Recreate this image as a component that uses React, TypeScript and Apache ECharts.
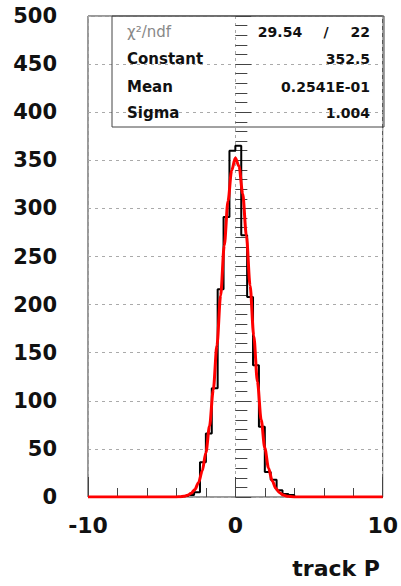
import React, { useEffect, useRef } from "react";
import * as echarts from "echarts";

// Histogram: 50 bins of width 0.4 from -10 to 10
const binLow = -10;
const binWidth = 0.4;
const binCounts = [
  0, 0, 0, 0, 0, 0, 0, 0, 0, 0,
  0, 0, 0, 0, 0, 0, 1, 2, 5, 36,
  66, 113, 216, 291, 360, 365, 272, 208, 137, 73,
  26, 18, 7, 3, 2, 0, 0, 0, 0, 0,
  0, 0, 0, 0, 0, 0, 0, 0, 0, 0,
];

// Fitted gaussian curve
const fitX = [-10, -4, -3.75, -3.5, -3.25, -3, -2.75, -2.5, -2.25, -2, -1.75, -1.5, -1.25, -1, -0.75, -0.5, -0.25, 0, 0.25, 0.5, 0.75, 1, 1.25, 1.5, 1.75, 2, 2.25, 2.5, 2.75, 3, 3.25, 3.5, 3.75, 4, 10];
const fitY = [0, 0.1, 0.3, 0.7, 1.7, 3.8, 7.7, 14.9, 27, 46.1, 73.9, 111.2, 157.4, 209.4, 261.7, 307.5, 339.5, 352.4, 343.8, 315.2, 271.6, 219.9, 167.5, 119.8, 80.6, 50.9, 30.2, 16.9, 8.9, 4.4, 2.0, 0.9, 0.4, 0.1, 0];

const xTicks = [-10, 0, 10];
const yTicks = [0, 50, 100, 150, 200, 250, 300, 350, 400, 450, 500];

const statLabels = ["χ²/ndf", "Constant", "Mean", "Sigma"];
const chi2 = "29.54";
const ndf = "22";
const statValues = ["", "352.5", "0.2541E-01", "1.004"];

const FONT = "'DejaVu Sans', sans-serif";

export default function App() {
  const ref = useRef<HTMLDivElement>(null);
  useEffect(() => {
    if (!ref.current) return;
    const chart = echarts.init(ref.current, undefined, { renderer: "svg" });

    const histData: number[][] = [];
    binCounts.forEach((c, i) => {
      const lo = binLow + i * binWidth;
      const hi = lo + binWidth;
      histData.push([lo, c]);
      histData.push([hi, c]);
    });
    const fitData = fitX.map((x, i) => [x, fitY[i]]);

    const rowY = [32, 59, 87, 113];
    const statGraphics: any[] = [
      {
        type: "rect",
        shape: { x: 112, y: 16, width: 272, height: 111 },
        style: { fill: "none", stroke: "#444", lineWidth: 1 },
        z: 100,
      },
    ];
    statLabels.forEach((t, i) => {
      statGraphics.push({
        type: "text",
        x: 127,
        y: rowY[i],
        z: 101,
        style: {
          text: t,
          fontFamily: FONT,
          fontSize: 15,
          fontWeight: i === 0 ? "normal" : "bold",
          fill: i === 0 ? "#888" : "#111",
          verticalAlign: "middle",
          align: "left",
        },
      });
      if (statValues[i]) {
        statGraphics.push({
          type: "text",
          x: 370,
          y: rowY[i],
          z: 101,
          style: {
            text: statValues[i],
            fontFamily: FONT,
            fontSize: 14,
            fontWeight: "bold",
            fill: "#111",
            verticalAlign: "middle",
            align: "right",
          },
        });
      }
    });
    statGraphics.push(
      {
        type: "text",
        x: 280,
        y: rowY[0],
        z: 101,
        style: { text: chi2, fontFamily: FONT, fontSize: 14, fontWeight: "bold", fill: "#111", verticalAlign: "middle", align: "center" },
      },
      {
        type: "text",
        x: 326,
        y: rowY[0],
        z: 101,
        style: { text: "/", fontFamily: FONT, fontSize: 14, fontWeight: "bold", fill: "#111", verticalAlign: "middle", align: "center" },
      },
      {
        type: "text",
        x: 370,
        y: rowY[0],
        z: 101,
        style: { text: ndf, fontFamily: FONT, fontSize: 14, fontWeight: "bold", fill: "#111", verticalAlign: "middle", align: "right" },
      },
      {
        type: "text",
        x: 380,
        y: 568,
        z: 101,
        style: { text: "track P", fontFamily: FONT, fontSize: 22, fontWeight: "bold", fill: "#111", verticalAlign: "middle", align: "right" },
      }
    );

    chart.setOption({
      animation: false,
      backgroundColor: "#fff",
      grid: {
        left: 88,
        top: 16,
        width: 296,
        height: 481,
        show: true,
        borderColor: "#333",
        borderWidth: 1,
        backgroundColor: "transparent",
      },
      xAxis: {
        type: "value",
        min: xTicks[0],
        max: xTicks[xTicks.length - 1],
        interval: 10,
        axisLine: { show: false },
        axisTick: { show: true, inside: true, length: 20, lineStyle: { color: "#444" } },
        minorTick: { show: true, splitNumber: 5, length: 9, lineStyle: { color: "#444" } },
        splitLine: { show: true, lineStyle: { color: "#aaa", type: [3, 4], width: 1 } },
        axisLabel: {
          margin: 17,
          fontFamily: FONT,
          fontSize: 22,
          fontWeight: "bold",
          color: "#111",
          formatter: (v: number) => String(v),
        },
      },
      yAxis: {
        type: "value",
        min: yTicks[0],
        max: yTicks[yTicks.length - 1],
        interval: 50,
        axisLine: { show: false },
        axisTick: { show: true, inside: true, length: 16, lineStyle: { color: "#444" } },
        minorTick: { show: true, splitNumber: 5, length: 12, lineStyle: { color: "#444" } },
        splitLine: { show: true, lineStyle: { color: "#aaa", type: [3, 4], width: 1 } },
        axisLabel: {
          margin: 31,
          fontFamily: FONT,
          fontSize: 21,
          fontWeight: "bold",
          color: "#111",
        },
      },
      graphic: statGraphics,
      series: [
        {
          type: "line",
          data: histData,
          symbol: "none",
          lineStyle: { color: "#000", width: 2 },
          z: 3,
          clip: true,
        },
        {
          type: "line",
          data: fitData,
          symbol: "none",
          smooth: 0.3,
          smoothMonotone: "x",
          lineStyle: { color: "#f00", width: 3 },
          z: 4,
          clip: true,
        },
      ],
    });
    return () => chart.dispose();
  }, []);
  return (
    <div
      ref={ref}
      style={{ position: "absolute", left: 0, top: 0, width: 401, height: 586 }}
    />
  );
}
